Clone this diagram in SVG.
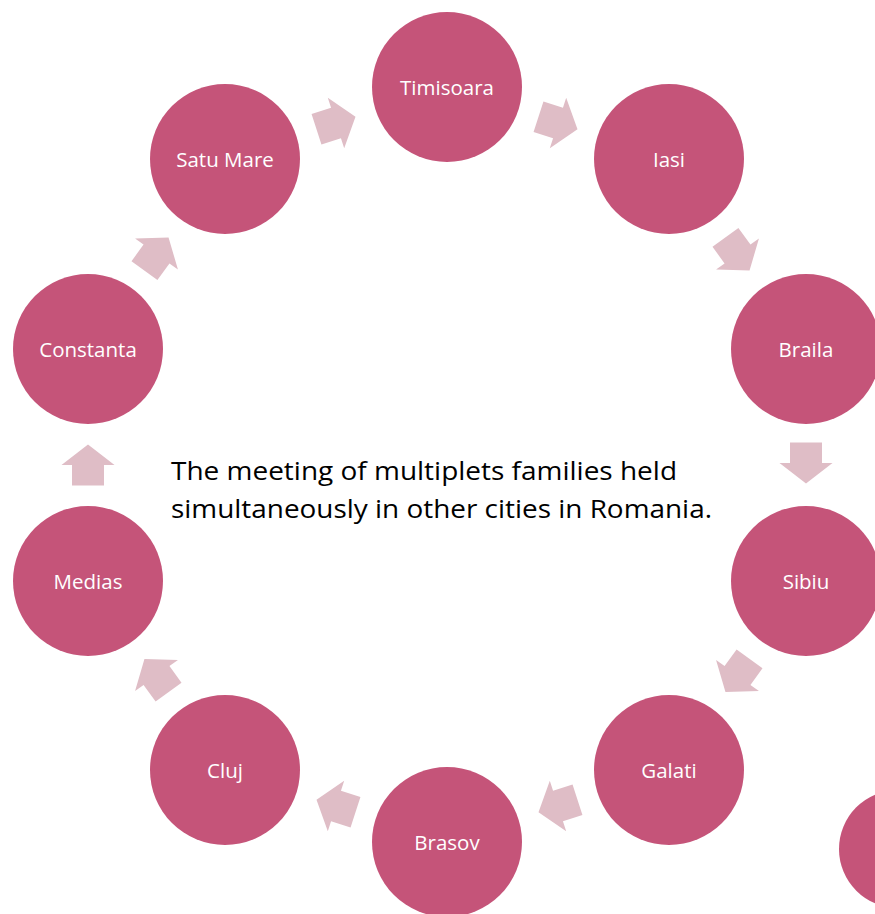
<svg xmlns="http://www.w3.org/2000/svg" width="875" height="914" viewBox="0 0 875 914">
<style>
.node{fill:#C55479}
.lbl{fill:#ffffff;font-family:"Open Sans","Liberation Sans",Arial,sans-serif;font-size:20.5px;text-anchor:middle;dominant-baseline:central}
.arr{fill:#DFBDC6}
.cap{fill:#000000;font-family:"Open Sans","Liberation Sans",Arial,sans-serif;font-size:25px}
</style>
<defs>
<path id="blk" d="M-20.5,-16 L0,-16 L0,-26.5 L20.5,0 L0,26.5 L0,16 L-20.5,16 Z"/>
</defs>
<rect width="875" height="914" fill="#ffffff"/>
<g id="connectors" class="arr">
<use href="#blk" transform="translate(558,123) rotate(18)"/>
<use href="#blk" transform="translate(737.5,254) rotate(54)"/>
<use href="#blk" transform="translate(806,463) rotate(90)"/>
<use href="#blk" transform="translate(737.5,675.5) rotate(126)"/>
<use href="#blk" transform="translate(558,806) rotate(162)"/>
<use href="#blk" transform="translate(336,806) rotate(198)"/>
<use href="#blk" transform="translate(156.5,675.5) rotate(234)"/>
<use href="#blk" transform="translate(88,465) rotate(270)"/>
<use href="#blk" transform="translate(156.5,254) rotate(306)"/>
<use href="#blk" transform="translate(336,123) rotate(342)"/>
</g>
<g id="timisoara"><circle class="node" cx="447" cy="87" r="75"/><text class="lbl" x="447" y="87">Timisoara</text></g>
<g id="iasi"><circle class="node" cx="669" cy="159" r="75"/><text class="lbl" x="669" y="159">Iasi</text></g>
<g id="braila"><circle class="node" cx="806" cy="349" r="75"/><text class="lbl" x="806" y="349">Braila</text></g>
<g id="sibiu"><circle class="node" cx="806" cy="581" r="75"/><text class="lbl" x="806" y="581">Sibiu</text></g>
<g id="galati"><circle class="node" cx="669" cy="770" r="75"/><text class="lbl" x="669" y="770">Galati</text></g>
<g id="brasov"><circle class="node" cx="447" cy="842" r="75"/><text class="lbl" x="447" y="842">Brasov</text></g>
<g id="cluj"><circle class="node" cx="225" cy="770" r="75"/><text class="lbl" x="225" y="770">Cluj</text></g>
<g id="medias"><circle class="node" cx="88" cy="581" r="75"/><text class="lbl" x="88" y="581">Medias</text></g>
<g id="constanta"><circle class="node" cx="88" cy="349" r="75"/><text class="lbl" x="88" y="349">Constanta</text></g>
<g id="satumare"><circle class="node" cx="225" cy="159" r="75"/><text class="lbl" x="225" y="159">Satu Mare</text></g>
<g id="partial"><circle class="node" cx="898" cy="849" r="59"/></g>
<g id="caption">
<text class="cap" x="171" y="480" textLength="506" lengthAdjust="spacingAndGlyphs">The meeting of multiplets families held</text>
<text class="cap" x="171" y="518" textLength="541" lengthAdjust="spacingAndGlyphs">simultaneously in other cities in Romania.</text>
</g>
</svg>
